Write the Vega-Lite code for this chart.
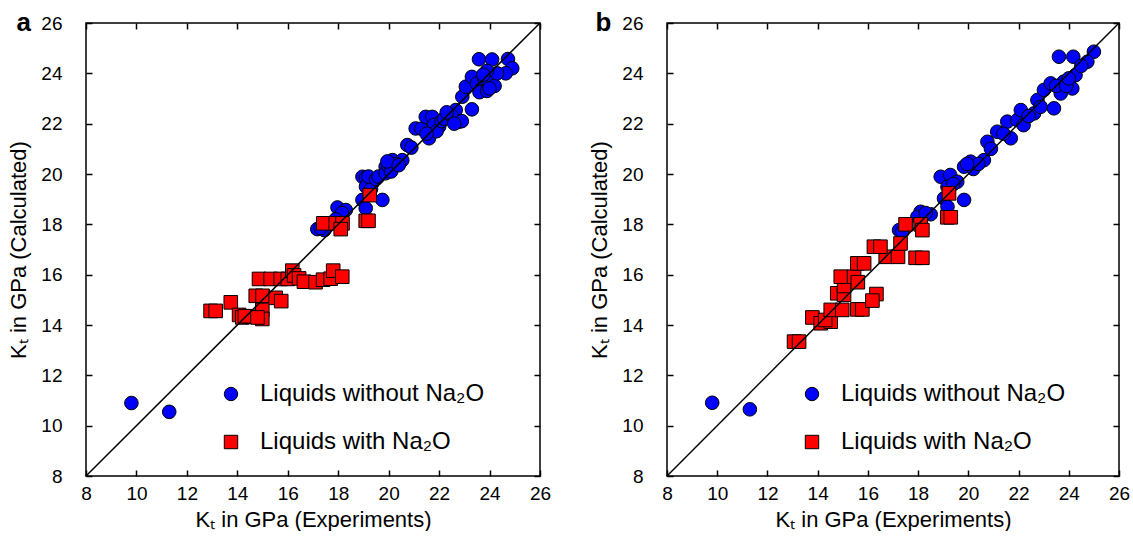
{
  "$schema": "https://vega.github.io/schema/vega-lite/v6.json",
  "background": "white",
  "padding": {"left": 7, "top": 8, "right": 5, "bottom": 0},
  "datasets": {
    "diag": [{"v": 8}, {"v": 26}],
    "pa": [
      {"exp": 9.8, "calc": 10.9, "kind": "without"},
      {"exp": 11.3, "calc": 10.55, "kind": "without"},
      {"exp": 17.17, "calc": 17.81, "kind": "without"},
      {"exp": 17.45, "calc": 17.77, "kind": "without"},
      {"exp": 17.3, "calc": 17.85, "kind": "without"},
      {"exp": 17.97, "calc": 18.67, "kind": "without"},
      {"exp": 18.3, "calc": 18.57, "kind": "without"},
      {"exp": 18.03, "calc": 18.3, "kind": "without"},
      {"exp": 18.15, "calc": 18.45, "kind": "without"},
      {"exp": 17.9, "calc": 18.2, "kind": "without"},
      {"exp": 18.96, "calc": 19.89, "kind": "without"},
      {"exp": 19.1, "calc": 19.85, "kind": "without"},
      {"exp": 19.35, "calc": 19.63, "kind": "without"},
      {"exp": 19.1, "calc": 19.5, "kind": "without"},
      {"exp": 19.3, "calc": 19.4, "kind": "without"},
      {"exp": 18.96, "calc": 18.97, "kind": "without"},
      {"exp": 19.75, "calc": 18.97, "kind": "without"},
      {"exp": 19.09, "calc": 18.64, "kind": "without"},
      {"exp": 19.2, "calc": 19.9, "kind": "without"},
      {"exp": 19.5, "calc": 19.8, "kind": "without"},
      {"exp": 19.6, "calc": 19.9, "kind": "without"},
      {"exp": 19.88, "calc": 20.29, "kind": "without"},
      {"exp": 19.88, "calc": 20.03, "kind": "without"},
      {"exp": 20.15, "calc": 20.55, "kind": "without"},
      {"exp": 20.54, "calc": 20.55, "kind": "without"},
      {"exp": 20.3, "calc": 20.4, "kind": "without"},
      {"exp": 20.0, "calc": 20.3, "kind": "without"},
      {"exp": 20.1, "calc": 20.1, "kind": "without"},
      {"exp": 19.95, "calc": 20.5, "kind": "without"},
      {"exp": 20.4, "calc": 20.35, "kind": "without"},
      {"exp": 20.74, "calc": 21.15, "kind": "without"},
      {"exp": 20.9, "calc": 21.05, "kind": "without"},
      {"exp": 21.07, "calc": 21.81, "kind": "without"},
      {"exp": 21.3, "calc": 21.8, "kind": "without"},
      {"exp": 21.47, "calc": 22.27, "kind": "without"},
      {"exp": 21.73, "calc": 22.27, "kind": "without"},
      {"exp": 21.6, "calc": 21.42, "kind": "without"},
      {"exp": 22.0, "calc": 21.88, "kind": "without"},
      {"exp": 21.8, "calc": 21.95, "kind": "without"},
      {"exp": 21.9, "calc": 21.7, "kind": "without"},
      {"exp": 21.5, "calc": 21.6, "kind": "without"},
      {"exp": 22.1, "calc": 22.1, "kind": "without"},
      {"exp": 22.2, "calc": 22.2, "kind": "without"},
      {"exp": 22.4, "calc": 22.4, "kind": "without"},
      {"exp": 22.66, "calc": 22.54, "kind": "without"},
      {"exp": 22.79, "calc": 22.08, "kind": "without"},
      {"exp": 22.5, "calc": 22.3, "kind": "without"},
      {"exp": 23.3, "calc": 22.57, "kind": "without"},
      {"exp": 22.9, "calc": 22.1, "kind": "without"},
      {"exp": 22.6, "calc": 22.0, "kind": "without"},
      {"exp": 22.3, "calc": 22.45, "kind": "without"},
      {"exp": 22.92, "calc": 23.07, "kind": "without"},
      {"exp": 23.06, "calc": 23.47, "kind": "without"},
      {"exp": 23.3, "calc": 23.86, "kind": "without"},
      {"exp": 23.5, "calc": 23.6, "kind": "without"},
      {"exp": 23.7, "calc": 23.4, "kind": "without"},
      {"exp": 23.8, "calc": 23.8, "kind": "without"},
      {"exp": 24.0, "calc": 23.6, "kind": "without"},
      {"exp": 24.1, "calc": 23.9, "kind": "without"},
      {"exp": 23.6, "calc": 23.25, "kind": "without"},
      {"exp": 23.9, "calc": 23.3, "kind": "without"},
      {"exp": 24.2, "calc": 23.5, "kind": "without"},
      {"exp": 23.58, "calc": 24.56, "kind": "without"},
      {"exp": 24.1, "calc": 24.55, "kind": "without"},
      {"exp": 24.73, "calc": 24.57, "kind": "without"},
      {"exp": 24.9, "calc": 24.2, "kind": "without"},
      {"exp": 24.64, "calc": 24.0, "kind": "without"},
      {"exp": 24.3, "calc": 24.0, "kind": "without"},
      {"exp": 23.9, "calc": 24.1, "kind": "without"},
      {"exp": 24.0, "calc": 23.4, "kind": "without"},
      {"exp": 23.75, "calc": 23.95, "kind": "without"},
      {"exp": 12.94, "calc": 14.56, "kind": "with"},
      {"exp": 13.14, "calc": 14.56, "kind": "with"},
      {"exp": 13.74, "calc": 14.9, "kind": "with"},
      {"exp": 14.07, "calc": 14.4, "kind": "with"},
      {"exp": 14.2, "calc": 14.3, "kind": "with"},
      {"exp": 14.46, "calc": 14.33, "kind": "with"},
      {"exp": 14.3, "calc": 14.35, "kind": "with"},
      {"exp": 14.99, "calc": 14.6, "kind": "with"},
      {"exp": 14.99, "calc": 14.24, "kind": "with"},
      {"exp": 14.8, "calc": 14.3, "kind": "with"},
      {"exp": 14.73, "calc": 15.16, "kind": "with"},
      {"exp": 15.0, "calc": 15.16, "kind": "with"},
      {"exp": 15.52, "calc": 15.08, "kind": "with"},
      {"exp": 15.74, "calc": 14.95, "kind": "with"},
      {"exp": 14.86, "calc": 15.83, "kind": "with"},
      {"exp": 15.32, "calc": 15.83, "kind": "with"},
      {"exp": 15.72, "calc": 15.83, "kind": "with"},
      {"exp": 16.0, "calc": 15.83, "kind": "with"},
      {"exp": 16.18, "calc": 16.16, "kind": "with"},
      {"exp": 16.25, "calc": 15.97, "kind": "with"},
      {"exp": 16.45, "calc": 15.85, "kind": "with"},
      {"exp": 16.64, "calc": 15.72, "kind": "with"},
      {"exp": 17.1, "calc": 15.7, "kind": "with"},
      {"exp": 17.4, "calc": 15.8, "kind": "with"},
      {"exp": 17.7, "calc": 15.84, "kind": "with"},
      {"exp": 17.8, "calc": 16.16, "kind": "with"},
      {"exp": 18.16, "calc": 15.92, "kind": "with"},
      {"exp": 17.41, "calc": 18.04, "kind": "with"},
      {"exp": 17.9, "calc": 18.04, "kind": "with"},
      {"exp": 18.17, "calc": 18.04, "kind": "with"},
      {"exp": 18.1, "calc": 17.81, "kind": "with"},
      {"exp": 19.25, "calc": 19.16, "kind": "with"},
      {"exp": 19.09, "calc": 18.14, "kind": "with"},
      {"exp": 19.2, "calc": 18.14, "kind": "with"}
    ],
    "pb": [
      {"exp": 9.8, "calc": 10.91, "kind": "without"},
      {"exp": 11.3, "calc": 10.65, "kind": "without"},
      {"exp": 17.24, "calc": 17.77, "kind": "without"},
      {"exp": 17.37, "calc": 17.7, "kind": "without"},
      {"exp": 18.1, "calc": 18.5, "kind": "without"},
      {"exp": 18.5, "calc": 18.4, "kind": "without"},
      {"exp": 17.97, "calc": 18.3, "kind": "without"},
      {"exp": 18.3, "calc": 18.45, "kind": "without"},
      {"exp": 18.9, "calc": 19.89, "kind": "without"},
      {"exp": 19.28, "calc": 19.96, "kind": "without"},
      {"exp": 19.56, "calc": 19.69, "kind": "without"},
      {"exp": 19.17, "calc": 19.49, "kind": "without"},
      {"exp": 19.03, "calc": 19.03, "kind": "without"},
      {"exp": 19.83, "calc": 18.97, "kind": "without"},
      {"exp": 19.17, "calc": 18.7, "kind": "without"},
      {"exp": 19.4, "calc": 19.6, "kind": "without"},
      {"exp": 19.83, "calc": 20.29, "kind": "without"},
      {"exp": 20.09, "calc": 20.49, "kind": "without"},
      {"exp": 20.2, "calc": 20.2, "kind": "without"},
      {"exp": 20.62, "calc": 20.55, "kind": "without"},
      {"exp": 20.4, "calc": 20.4, "kind": "without"},
      {"exp": 19.95, "calc": 20.4, "kind": "without"},
      {"exp": 20.76, "calc": 21.28, "kind": "without"},
      {"exp": 20.9, "calc": 21.0, "kind": "without"},
      {"exp": 21.15, "calc": 21.68, "kind": "without"},
      {"exp": 21.55, "calc": 22.08, "kind": "without"},
      {"exp": 21.69, "calc": 21.42, "kind": "without"},
      {"exp": 21.95, "calc": 22.14, "kind": "without"},
      {"exp": 22.09, "calc": 22.54, "kind": "without"},
      {"exp": 22.2, "calc": 21.94, "kind": "without"},
      {"exp": 21.4, "calc": 21.6, "kind": "without"},
      {"exp": 22.62, "calc": 22.41, "kind": "without"},
      {"exp": 22.75, "calc": 22.94, "kind": "without"},
      {"exp": 22.88, "calc": 22.67, "kind": "without"},
      {"exp": 23.41, "calc": 22.61, "kind": "without"},
      {"exp": 22.4, "calc": 22.3, "kind": "without"},
      {"exp": 23.01, "calc": 23.34, "kind": "without"},
      {"exp": 23.28, "calc": 23.6, "kind": "without"},
      {"exp": 23.68, "calc": 23.2, "kind": "without"},
      {"exp": 23.8, "calc": 23.67, "kind": "without"},
      {"exp": 24.14, "calc": 23.4, "kind": "without"},
      {"exp": 24.27, "calc": 23.93, "kind": "without"},
      {"exp": 23.5, "calc": 23.5, "kind": "without"},
      {"exp": 23.9, "calc": 23.5, "kind": "without"},
      {"exp": 24.0, "calc": 23.8, "kind": "without"},
      {"exp": 23.61, "calc": 24.66, "kind": "without"},
      {"exp": 24.18, "calc": 24.66, "kind": "without"},
      {"exp": 25.0, "calc": 24.86, "kind": "without"},
      {"exp": 24.74, "calc": 24.46, "kind": "without"},
      {"exp": 24.5, "calc": 24.3, "kind": "without"},
      {"exp": 13.06, "calc": 13.34, "kind": "with"},
      {"exp": 13.26, "calc": 13.34, "kind": "with"},
      {"exp": 13.79, "calc": 14.3, "kind": "with"},
      {"exp": 14.12, "calc": 14.07, "kind": "with"},
      {"exp": 14.52, "calc": 14.13, "kind": "with"},
      {"exp": 14.3, "calc": 14.2, "kind": "with"},
      {"exp": 14.52, "calc": 14.6, "kind": "with"},
      {"exp": 14.98, "calc": 14.6, "kind": "with"},
      {"exp": 15.58, "calc": 14.62, "kind": "with"},
      {"exp": 15.78, "calc": 14.62, "kind": "with"},
      {"exp": 14.78, "calc": 15.26, "kind": "with"},
      {"exp": 15.05, "calc": 15.2, "kind": "with"},
      {"exp": 16.34, "calc": 15.23, "kind": "with"},
      {"exp": 16.18, "calc": 14.97, "kind": "with"},
      {"exp": 15.05, "calc": 15.55, "kind": "with"},
      {"exp": 14.92, "calc": 15.92, "kind": "with"},
      {"exp": 15.45, "calc": 15.92, "kind": "with"},
      {"exp": 15.6, "calc": 15.7, "kind": "with"},
      {"exp": 15.58, "calc": 16.45, "kind": "with"},
      {"exp": 15.85, "calc": 16.45, "kind": "with"},
      {"exp": 16.71, "calc": 16.71, "kind": "with"},
      {"exp": 17.2, "calc": 16.71, "kind": "with"},
      {"exp": 17.9, "calc": 16.67, "kind": "with"},
      {"exp": 18.17, "calc": 16.67, "kind": "with"},
      {"exp": 16.24, "calc": 17.11, "kind": "with"},
      {"exp": 16.5, "calc": 17.11, "kind": "with"},
      {"exp": 17.3, "calc": 17.24, "kind": "with"},
      {"exp": 17.5, "calc": 18.0, "kind": "with"},
      {"exp": 18.1, "calc": 18.0, "kind": "with"},
      {"exp": 18.17, "calc": 17.77, "kind": "with"},
      {"exp": 19.23, "calc": 19.23, "kind": "with"},
      {"exp": 19.16, "calc": 18.28, "kind": "with"},
      {"exp": 19.3, "calc": 18.28, "kind": "with"}
    ]
  },
  "spacing": 36,
  "hconcat": [
    {
      "width": 454,
      "height": 453,
      "layer": [
        {
          "data": {"name": "pa"},
          "mark": {"type": "point", "filled": true, "stroke": "black", "strokeWidth": 1, "opacity": 1, "size": 185},
          "encoding": {
            "x": {"field": "exp", "type": "quantitative", "scale": {"domain": [8, 26], "nice": false, "zero": false},
                  "axis": {"orient": "bottom", "values": [8, 10, 12, 14, 16, 18, 20, 22, 24, 26], "tickSize": -6, "labelPadding": 14, "title": "Kₜ in GPa (Experiments)", "titlePadding": 6}},
            "y": {"field": "calc", "type": "quantitative", "scale": {"domain": [8, 26], "nice": false, "zero": false},
                  "axis": {"orient": "left", "values": [8, 10, 12, 14, 16, 18, 20, 22, 24, 26], "tickSize": -6, "labelPadding": 30, "title": "Kₜ in GPa (Calculated)", "titlePadding": 10}},
            "color": {"field": "kind", "type": "nominal", "scale": {"domain": ["without", "with"], "range": ["#0000ff", "#ff0000"]},
                      "legend": {"orient": "none", "legendX": 133, "legendY": 359, "title": null, "labelExpr": "datum.label == 'without' ? 'Liquids without Na₂O' : 'Liquids with Na₂O'"}},
            "shape": {"field": "kind", "type": "nominal", "scale": {"domain": ["without", "with"], "range": ["circle", "square"]},
                      "legend": {"orient": "none", "legendX": 133, "legendY": 359, "title": null, "labelExpr": "datum.label == 'without' ? 'Liquids without Na₂O' : 'Liquids with Na₂O'"}}
          }
        },
        {
          "data": {"name": "diag"},
          "mark": {"type": "line", "color": "black", "strokeWidth": 1.5},
          "encoding": {
            "x": {"field": "v", "type": "quantitative", "scale": {"domain": [8, 26], "nice": false, "zero": false},
                  "axis": {"orient": "top", "values": [8, 10, 12, 14, 16, 18, 20, 22, 24, 26], "tickSize": -6, "labels": false,
                           "title": "a", "titleX": -70, "titleY": 7, "titleAlign": "left", "titleAngle": 0, "titleBaseline": "alphabetic", "titleFontSize": 26, "titleFontWeight": "bold"}},
            "y": {"field": "v", "type": "quantitative", "scale": {"domain": [8, 26], "nice": false, "zero": false},
                  "axis": {"orient": "right", "values": [8, 10, 12, 14, 16, 18, 20, 22, 24, 26], "tickSize": -6, "labels": false, "title": null}}
          }
        }
      ],
      "resolve": {"axis": {"x": "independent", "y": "independent"}}
    },
    {
      "width": 452,
      "height": 453,
      "layer": [
        {
          "data": {"name": "pb"},
          "mark": {"type": "point", "filled": true, "stroke": "black", "strokeWidth": 1, "opacity": 1, "size": 185},
          "encoding": {
            "x": {"field": "exp", "type": "quantitative", "scale": {"domain": [8, 26], "nice": false, "zero": false},
                  "axis": {"orient": "bottom", "values": [8, 10, 12, 14, 16, 18, 20, 22, 24, 26], "tickSize": -6, "labelPadding": 14, "title": "Kₜ in GPa (Experiments)", "titlePadding": 6}},
            "y": {"field": "calc", "type": "quantitative", "scale": {"domain": [8, 26], "nice": false, "zero": false},
                  "axis": {"orient": "left", "values": [8, 10, 12, 14, 16, 18, 20, 22, 24, 26], "tickSize": -6, "labelPadding": 30, "title": "Kₜ in GPa (Calculated)", "titlePadding": 10}},
            "color": {"field": "kind", "type": "nominal", "scale": {"domain": ["without", "with"], "range": ["#0000ff", "#ff0000"]},
                      "legend": {"orient": "none", "legendX": 133, "legendY": 359, "title": null, "labelExpr": "datum.label == 'without' ? 'Liquids without Na₂O' : 'Liquids with Na₂O'"}},
            "shape": {"field": "kind", "type": "nominal", "scale": {"domain": ["without", "with"], "range": ["circle", "square"]},
                      "legend": {"orient": "none", "legendX": 133, "legendY": 359, "title": null, "labelExpr": "datum.label == 'without' ? 'Liquids without Na₂O' : 'Liquids with Na₂O'"}}
          }
        },
        {
          "data": {"name": "diag"},
          "mark": {"type": "line", "color": "black", "strokeWidth": 1.5},
          "encoding": {
            "x": {"field": "v", "type": "quantitative", "scale": {"domain": [8, 26], "nice": false, "zero": false},
                  "axis": {"orient": "top", "values": [8, 10, 12, 14, 16, 18, 20, 22, 24, 26], "tickSize": -6, "labels": false,
                           "title": "b", "titleX": -72, "titleY": 7, "titleAlign": "left", "titleAngle": 0, "titleBaseline": "alphabetic", "titleFontSize": 26, "titleFontWeight": "bold"}},
            "y": {"field": "v", "type": "quantitative", "scale": {"domain": [8, 26], "nice": false, "zero": false},
                  "axis": {"orient": "right", "values": [8, 10, 12, 14, 16, 18, 20, 22, 24, 26], "tickSize": -6, "labels": false, "title": null}}
          }
        }
      ],
      "resolve": {"axis": {"x": "independent", "y": "independent"}}
    }
  ],
  "resolve": {"legend": {"color": "independent", "shape": "independent"}, "scale": {"color": "independent", "shape": "independent"}},
  "config": {
    "font": "Liberation Sans",
    "view": {"stroke": "black", "strokeWidth": 1.5},
    "axis": {
      "grid": false,
      "domain": false,
      "tickColor": "black",
      "tickWidth": 1.5,
      "labelColor": "black",
      "labelFontSize": 19,
      "labelFont": "Liberation Sans",
      "titleColor": "black",
      "titleFontSize": 22,
      "titleFont": "Liberation Sans",
      "titleFontWeight": "normal",
      "labelFlush": false,
      "labelOverlap": false
    },
    "legend": {
      "labelFontSize": 24,
      "labelFont": "Liberation Sans",
      "labelColor": "black",
      "labelLimit": 400,
      "labelOffset": 17,
      "symbolSize": 180,
      "symbolStrokeColor": "black",
      "symbolStrokeWidth": 1,
      "rowPadding": 24,
      "padding": 0
    }
  }
}
